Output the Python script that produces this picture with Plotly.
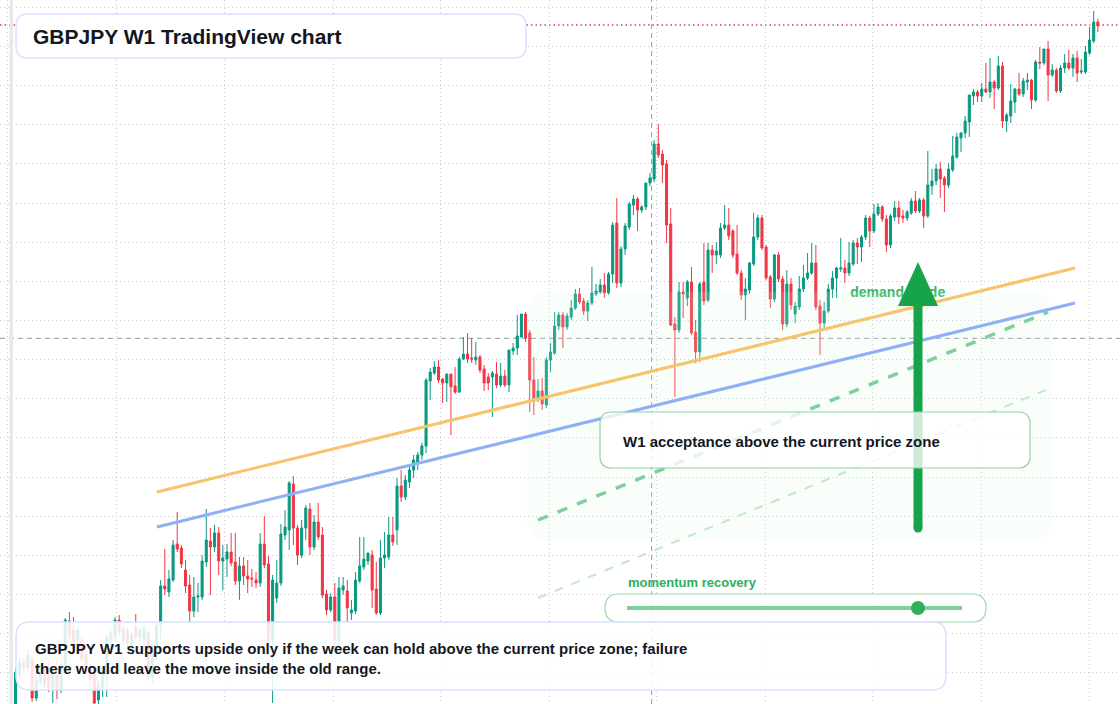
import plotly.graph_objects as go
import pandas as pd

W, H = 1120, 704
start_week = "2019-07-15"

open_ = [
    129.6, 132.5, 133.7, 133.2, 134.0, 130.2, 131.8, 133.0, 133.2, 131.2,
    132.8, 131.0, 133.2, 137.9, 137.0, 135.9, 136.0, 134.5, 133.3, 132.5,
    130.0, 131.2, 132.7, 136.0, 136.3, 138.0, 136.0, 137.0, 135.0, 137.3,
    136.3, 136.0, 136.7, 132.2, 135.0, 137.5, 141.4, 140.8, 142.0, 145.6,
    145.2, 143.0, 141.5, 138.9, 140.3, 140.3, 143.8, 145.9, 145.3, 146.7,
    143.9, 144.1, 144.8, 143.8, 141.9, 143.4, 142.4, 142.2, 142.0, 141.7,
    145.6, 143.6, 136.0, 140.2, 141.7, 146.5, 147.0, 151.6, 147.2, 144.5,
    147.2, 149.1, 145.3, 147.8, 146.5, 140.6, 139.0, 140.3, 136.0, 141.0,
    140.9, 138.7, 138.9, 141.9, 143.3, 143.9, 144.5, 141.1, 138.7, 144.2,
    144.3, 146.5, 147.0, 151.4, 150.3, 151.8, 153.0, 153.8, 154.5, 155.4,
    161.9, 162.7, 163.3, 162.1, 161.7, 162.6, 161.4, 160.8, 164.1, 164.6,
    164.2, 164.0, 164.3, 163.1, 162.3, 162.3, 162.6, 161.5, 162.4, 161.5,
    164.9, 165.2, 166.3, 168.6, 166.7, 162.0, 160.2, 160.9, 159.5, 164.0,
    164.7, 167.4, 168.5, 167.3, 168.3, 169.2, 170.6, 169.9, 168.9, 169.7,
    170.6, 170.8, 171.5, 170.7, 172.6, 177.7, 171.7, 175.1, 177.3, 179.5,
    180.1, 179.0, 179.3, 181.7, 182.1, 185.6, 184.6, 183.6, 177.6, 167.6,
    167.0, 170.8, 170.2, 171.8, 166.8, 164.8, 171.8, 170.0, 175.0, 174.5,
    174.5, 177.2, 177.5, 176.9, 174.6, 172.7, 170.5, 171.0, 173.6, 176.3,
    178.2, 175.3, 172.3, 170.1, 174.5, 172.1, 167.6, 171.6, 168.6, 169.3,
    171.1, 172.2, 172.7, 173.7, 169.4, 167.7, 168.9, 171.1, 172.2, 173.1,
    173.2, 172.7, 173.6, 175.7, 175.3, 176.3, 178.2, 176.9, 178.6, 179.3,
    178.1, 175.5, 178.3, 179.2, 178.4, 178.2, 178.7, 179.9, 178.9, 180.0,
    178.4, 181.4, 181.9, 183.1, 182.2, 181.5, 183.0, 184.3, 186.2, 186.7,
    187.8, 190.4, 190.8, 190.4, 191.1, 190.8, 191.8, 191.2, 193.4, 187.9,
    188.4, 189.8, 191.1, 190.6, 191.8, 192.0, 190.0, 193.8, 193.7, 195.1,
    192.5, 193.0, 190.9, 193.2, 193.7, 193.2, 194.2, 192.8, 192.8, 194.7,
    195.9, 197.8,
]
high = [
    133.2, 134.3, 134.2, 135.0, 134.5, 132.5, 133.5, 133.4, 133.8, 133.2,
    134.0, 133.8, 138.2, 138.8, 138.3, 137.4, 136.4, 135.0, 133.8, 133.0,
    132.0, 133.5, 136.6, 137.0, 138.3, 138.5, 137.5, 137.2, 136.8, 138.6,
    137.2, 137.4, 137.0, 135.5, 137.8, 142.0, 145.1, 143.0, 146.0, 148.8,
    145.5, 144.0, 142.5, 142.3, 141.7, 144.5, 149.1, 147.2, 147.5, 147.3,
    145.5, 145.6, 146.7, 146.7, 144.3, 144.3, 144.0, 143.1, 142.8, 146.7,
    148.4, 144.4, 142.5, 144.0, 147.6, 149.0, 151.9, 152.4, 147.5, 148.0,
    149.5, 149.7, 148.5, 149.7, 147.3, 141.0, 140.7, 141.7, 142.3, 142.3,
    142.0, 140.0, 142.8, 146.3, 146.3, 144.7, 145.0, 143.8, 146.0, 146.8,
    148.3, 148.3, 152.2, 153.0, 152.5, 153.5, 154.5, 154.8, 155.7, 162.2,
    163.2, 163.9, 164.0, 162.2, 162.6, 162.6, 163.3, 164.3, 166.3, 166.7,
    166.2, 165.8, 164.5, 163.5, 162.7, 162.9, 163.8, 163.7, 163.0, 165.0,
    165.7, 168.5, 168.6, 168.8, 167.0, 164.3, 162.1, 162.2, 164.3, 165.7,
    168.8, 168.8, 168.8, 168.7, 170.0, 171.1, 171.2, 170.2, 170.0, 173.3,
    171.6, 172.1, 172.7, 172.8, 177.8, 180.2, 175.4, 177.7, 179.8, 180.5,
    180.3, 179.5, 181.7, 182.7, 186.0, 187.6, 185.0, 184.0, 179.2, 168.3,
    171.8, 171.8, 172.0, 173.3, 168.0, 171.8, 175.7, 175.7, 175.5, 175.8,
    177.7, 179.5, 179.2, 177.1, 177.5, 173.0, 172.2, 173.8, 178.7, 178.5,
    178.5, 175.5, 172.5, 174.6, 174.8, 172.4, 173.0, 172.2, 169.8, 172.4,
    173.5, 174.7, 175.7, 175.5, 170.0, 169.8, 171.6, 172.9, 173.3, 176.2,
    174.0, 175.8, 176.0, 176.2, 176.5, 178.5, 178.4, 179.6, 179.7, 179.5,
    178.5, 178.6, 179.9, 179.9, 179.0, 179.0, 180.2, 180.9, 180.2, 180.2,
    184.9, 183.1, 183.6, 183.8, 182.4, 183.7, 186.4, 186.7, 186.8, 188.4,
    190.5, 191.1, 191.0, 191.7, 193.7, 194.2, 192.0, 194.4, 193.8, 188.7,
    191.6, 191.2, 192.7, 192.2, 192.7, 192.1, 194.0, 195.3, 195.1, 195.9,
    193.6, 193.2, 193.5, 194.6, 195.0, 194.6, 194.9, 194.1, 195.4, 197.3,
    198.9, 198.1,
]
low = [
    128.8, 132.0, 132.5, 132.8, 129.8, 129.9, 131.5, 131.0, 130.8, 129.7,
    130.1, 130.7, 132.7, 136.0, 135.4, 135.5, 133.7, 132.8, 131.3, 129.4,
    129.6, 130.3, 130.3, 135.0, 135.8, 136.4, 135.5, 135.2, 134.5, 136.0,
    135.8, 135.5, 132.0, 131.7, 134.0, 136.0, 140.5, 140.3, 141.8, 144.8,
    143.2, 140.7, 137.8, 138.3, 138.8, 140.0, 143.3, 140.5, 144.8, 142.5,
    141.0, 142.3, 143.4, 141.5, 140.0, 141.5, 140.7, 141.3, 141.2, 141.3,
    143.2, 135.5, 129.7, 139.7, 141.4, 146.0, 145.0, 145.5, 143.5, 144.2,
    146.0, 144.5, 145.0, 146.0, 140.2, 138.5, 138.8, 135.0, 135.0, 140.5,
    137.7, 138.0, 138.6, 141.7, 143.0, 143.5, 139.2, 138.5, 138.5, 143.2,
    144.0, 145.4, 145.5, 149.8, 150.0, 151.2, 152.2, 153.0, 154.0, 154.7,
    160.0, 162.5, 161.7, 159.7, 159.8, 156.5, 160.6, 160.7, 164.0, 163.7,
    163.7, 163.5, 162.7, 160.9, 161.0, 158.3, 161.2, 161.3, 161.3, 160.8,
    164.5, 164.5, 166.2, 165.8, 158.8, 158.5, 159.8, 159.0, 159.2, 162.8,
    164.5, 167.0, 165.2, 167.0, 168.0, 169.0, 169.6, 168.5, 167.9, 169.5,
    170.4, 170.6, 170.2, 170.5, 171.7, 171.2, 171.3, 174.5, 177.0, 178.5,
    176.9, 178.7, 179.0, 181.4, 181.8, 184.2, 181.7, 175.7, 167.4, 160.3,
    166.7, 168.2, 169.4, 166.5, 163.7, 163.8, 169.5, 169.8, 172.7, 173.6,
    174.2, 177.0, 176.0, 174.2, 172.5, 170.0, 168.0, 170.6, 173.4, 176.0,
    175.0, 172.0, 169.2, 169.8, 171.8, 167.0, 167.3, 169.0, 167.7, 169.0,
    170.8, 172.0, 172.5, 169.0, 164.5, 167.0, 168.7, 170.2, 170.2, 172.8,
    171.7, 172.4, 173.4, 173.6, 173.8, 176.0, 175.3, 176.7, 178.4, 177.8,
    174.8, 175.2, 177.9, 177.6, 177.7, 177.9, 178.5, 178.7, 178.7, 177.2,
    178.2, 180.5, 181.5, 180.2, 178.8, 181.2, 182.8, 184.1, 184.8, 186.2,
    186.3, 189.5, 189.8, 189.8, 190.7, 190.2, 189.1, 191.0, 187.2, 186.8,
    187.7, 188.7, 190.4, 190.3, 191.0, 189.1, 189.8, 193.1, 193.5, 189.9,
    192.3, 190.7, 190.7, 192.7, 193.0, 192.3, 191.8, 192.6, 192.6, 194.5,
    195.7, 196.8,
]
close = [
    132.8, 133.8, 133.2, 134.5, 130.2, 132.0, 133.2, 131.5, 131.2, 132.8,
    131.0, 133.5, 138.0, 136.5, 135.8, 137.0, 134.0, 133.3, 132.0, 129.7,
    131.5, 133.3, 136.3, 136.7, 138.0, 136.8, 137.2, 135.7, 136.5, 136.3,
    137.0, 137.1, 132.3, 135.0, 137.5, 141.4, 141.1, 142.1, 145.5, 145.1,
    143.6, 141.4, 138.9, 140.3, 140.4, 143.9, 146.0, 145.3, 146.7, 143.9,
    144.2, 144.8, 143.7, 141.9, 143.4, 142.4, 142.1, 142.1, 141.7, 145.6,
    143.5, 136.0, 142.0, 141.7, 146.6, 147.3, 151.7, 147.2, 144.5, 147.2,
    149.2, 145.3, 147.8, 146.3, 140.5, 139.0, 140.3, 136.0, 141.2, 141.4,
    139.2, 139.0, 142.0, 143.4, 144.1, 144.7, 141.0, 138.7, 144.2, 144.5,
    146.5, 145.8, 151.4, 150.3, 152.0, 153.0, 154.0, 154.5, 155.4, 162.0,
    162.8, 163.3, 162.0, 161.7, 162.6, 161.3, 160.8, 164.1, 164.6, 164.1,
    164.1, 164.3, 163.0, 161.7, 161.7, 162.7, 161.5, 162.4, 161.5, 165.0,
    165.2, 166.4, 168.6, 166.2, 162.0, 160.2, 160.9, 159.6, 164.0, 164.8,
    167.4, 168.5, 167.3, 168.4, 169.2, 170.6, 169.8, 168.9, 169.7, 170.7,
    170.9, 171.5, 170.7, 172.6, 177.5, 171.7, 175.1, 177.4, 179.6, 180.1,
    179.0, 179.3, 181.7, 182.2, 185.6, 184.5, 183.5, 177.5, 167.5, 167.0,
    170.8, 170.6, 171.8, 166.7, 164.8, 171.6, 169.9, 175.0, 174.5, 174.9,
    177.2, 177.5, 176.4, 174.5, 172.7, 170.5, 171.1, 173.7, 176.3, 178.2,
    175.2, 172.2, 170.1, 174.5, 172.1, 167.6, 171.6, 169.5, 169.4, 171.1,
    172.2, 172.7, 173.7, 169.3, 167.7, 168.9, 171.1, 172.2, 173.2, 173.2,
    172.7, 173.7, 175.7, 175.3, 176.3, 178.2, 176.9, 178.6, 179.3, 178.1,
    175.5, 178.4, 179.2, 178.3, 178.2, 178.8, 179.9, 178.9, 180.0, 178.4,
    181.5, 181.9, 183.1, 182.1, 181.5, 183.1, 184.4, 186.3, 186.7, 187.9,
    190.5, 190.8, 190.4, 191.1, 190.8, 191.8, 191.2, 193.4, 187.9, 188.5,
    189.9, 191.1, 190.6, 191.9, 192.0, 190.0, 193.8, 193.7, 195.1, 192.5,
    193.0, 190.9, 193.2, 193.7, 193.2, 194.2, 192.7, 192.9, 194.8, 196.0,
    197.8, 197.4,
]

# annotation levels (price) and guide lines (week index, price)
crosshair_price = 166.17
crosshair_week = 153.4
last_price = 197.5
orange_line = [(34.1, 150.8), (255.5, 173.2)]
blue_line = [(34.1, 147.3), (255.5, 169.7)]
green_dash = [(126.0, 148.0), (249.0, 168.8)]
green_dash_light = [(126.0, 140.2), (249.0, 161.1)]
demand_label = (201.3, 170.7)

dates = pd.date_range(start_week, periods=len(open_), freq="7D")


def wk(f):
    return pd.Timestamp(start_week) + pd.Timedelta(days=7 * f)


def X(px):
    return px / W


def Y(py):
    return 1 - py / H


def rrect(x0, y0, x1, y1, r):
    return (
        f"M {X(x0+r)},{Y(y0)} L {X(x1-r)},{Y(y0)} Q {X(x1)},{Y(y0)} {X(x1)},{Y(y0+r)} "
        f"L {X(x1)},{Y(y1-r)} Q {X(x1)},{Y(y1)} {X(x1-r)},{Y(y1)} "
        f"L {X(x0+r)},{Y(y1)} Q {X(x0)},{Y(y1)} {X(x0)},{Y(y1-r)} "
        f"L {X(x0)},{Y(y0+r)} Q {X(x0)},{Y(y0)} {X(x0+r)},{Y(y0)} Z"
    )


FONT = "Liberation Sans, Arial, sans-serif"
GREEN = "#089981"
RED = "#f23645"
GRID = "#c9cdd3"

fig = go.Figure()
fig.add_trace(go.Candlestick(
    x=dates, open=open_, high=high, low=low, close=close,
    increasing=dict(line=dict(color=GREEN, width=1), fillcolor=GREEN),
    decreasing=dict(line=dict(color=RED, width=1), fillcolor=RED),
    showlegend=False, hoverinfo="skip",
))
fig.add_trace(go.Scatter(
    x=[wk(demand_label[0])], y=[demand_label[1]], mode="text",
    text=["<b>demand guide</b>"], textposition="middle right",
    textfont=dict(family=FONT, size=14, color="#34b562"),
    showlegend=False, hoverinfo="skip", cliponaxis=False,
))

shapes = []
# crosshair
shapes.append(dict(type="line", xref="paper", x0=0, x1=1, yref="y", y0=crosshair_price, y1=crosshair_price,
                   line=dict(color="#9598a1", width=1, dash="5px,4px"), layer="below"))
shapes.append(dict(type="line", xref="x", x0=wk(crosshair_week), x1=wk(crosshair_week), yref="paper", y0=0, y1=1,
                   line=dict(color="#9598a1", width=1, dash="5px,4px"), layer="below"))
# last price line
shapes.append(dict(type="line", xref="paper", x0=0, x1=1, yref="y", y0=last_price, y1=last_price,
                   line=dict(color=RED, width=1.3, dash="1.5px,3px"), layer="below"))
# left strip
shapes.append(dict(type="rect", xref="paper", yref="paper", x0=X(9.5), x1=X(13), y0=0, y1=1,
                   fillcolor="#e8e8ea", line=dict(width=0), layer="above"))
# demand zone
shapes.append(dict(type="path", xref="paper", yref="paper", path=rrect(527, 292, 1052, 540, 22),
                   fillcolor="rgba(215,247,226,0.16)", line=dict(width=0), layer="above"))
# trend lines
for pts, col, wdt, dsh in [
    (orange_line, "#f7c46c", 3, "solid"),
    (blue_line, "#8fb0f4", 3, "solid"),
    (green_dash_light, "#bfe8cc", 2, "dash"),
    (green_dash, "#80cf9c", 3.5, "dash"),
]:
    shapes.append(dict(type="line", xref="x", yref="y",
                       x0=wk(pts[0][0]), y0=pts[0][1], x1=wk(pts[1][0]), y1=pts[1][1],
                       line=dict(color=col, width=wdt, dash=dsh), layer="above"))
# arrow
shapes.append(dict(type="line", xref="paper", yref="paper", x0=X(918), x1=X(918), y0=Y(528), y1=Y(300),
                   line=dict(color="#16a34a", width=9), layer="above"))
shapes.append(dict(type="circle", xref="paper", yref="paper", x0=X(913.5), x1=X(922.5), y0=Y(532.5), y1=Y(523.5),
                   fillcolor="#16a34a", line=dict(width=0), layer="above"))
shapes.append(dict(type="path", xref="paper", yref="paper",
                   path=f"M {X(898)},{Y(306)} L {X(938)},{Y(306)} L {X(918)},{Y(262)} Z",
                   fillcolor="#16a34a", line=dict(width=0), layer="above"))
# acceptance box
shapes.append(dict(type="path", xref="paper", yref="paper", path=rrect(600, 412, 1030, 468, 12),
                   fillcolor="rgba(255,255,255,0.78)", line=dict(color="#8fd3a6", width=1.2), layer="above"))
# momentum pill
shapes.append(dict(type="path", xref="paper", yref="paper", path=rrect(605, 594, 986, 622, 14),
                   fillcolor="rgba(255,255,255,0.9)", line=dict(color="#9ad8ae", width=1.2), layer="above"))
shapes.append(dict(type="line", xref="paper", yref="paper", x0=X(627), x1=X(962), y0=Y(608), y1=Y(608),
                   line=dict(color="#80cf9c", width=4), layer="above"))
shapes.append(dict(type="circle", xref="paper", yref="paper", x0=X(911), x1=X(925), y0=Y(615), y1=Y(601),
                   fillcolor="#2fae5c", line=dict(width=0), layer="above"))
# bottom note box
shapes.append(dict(type="path", xref="paper", yref="paper", path=rrect(16, 622, 946, 690, 14),
                   fillcolor="rgba(255,255,255,0.86)", line=dict(color="#d7e4fb", width=1.5), layer="above"))
# title box
shapes.append(dict(type="path", xref="paper", yref="paper", path=rrect(16, 14, 526, 58, 12),
                   fillcolor="#ffffff", line=dict(color="#d7e4fb", width=1.5), layer="above"))

annotations = [
    dict(xref="paper", yref="paper", x=X(31), y=Y(36), xanchor="left", yanchor="middle",
         text="<b>GBPJPY W1 TradingView chart</b>", showarrow=False,
         font=dict(family=FONT, size=21, color="#131722")),
    dict(xref="paper", yref="paper", x=X(621), y=Y(441), xanchor="left", yanchor="middle",
         text="<b>W1 acceptance above the current price zone</b>", showarrow=False,
         font=dict(family=FONT, size=15, color="#131722")),
    dict(xref="paper", yref="paper", x=X(626), y=Y(582), xanchor="left", yanchor="middle",
         text="<b>momentum recovery</b>", showarrow=False,
         font=dict(family=FONT, size=13, color="#2fae5c")),
    dict(xref="paper", yref="paper", x=X(33), y=Y(658), xanchor="left", yanchor="middle", align="left",
         text="<b>GBPJPY W1 supports upside only if the week can hold above the current price zone; failure"
              "<br>there would leave the move inside the old range.</b>",
         showarrow=False, font=dict(family=FONT, size=15, color="#131722")),
]

fig.update_layout(
    width=W, height=H, margin=dict(l=0, r=0, t=0, b=0),
    paper_bgcolor="white", plot_bgcolor="white",
    shapes=shapes, annotations=annotations, showlegend=False,
    xaxis=dict(type="date", range=[wk(-3.738), wk(266.34)], rangeslider=dict(visible=False),
               showticklabels=False, tick0="2019-01-01", dtick="M6", showgrid=True,
               gridcolor=GRID, griddash="1px,3px", gridwidth=1, zeroline=False, showline=False, ticks=""),
    yaxis=dict(range=[129.6, 200.0], showticklabels=False, tick0=199.27, dtick=3.915, showgrid=True,
               gridcolor=GRID, griddash="1px,3px", gridwidth=1, zeroline=False, showline=False, ticks=""),
)

fig.write_html("out.html")
